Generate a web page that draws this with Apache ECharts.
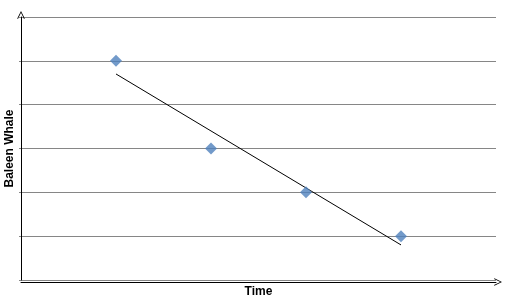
<!DOCTYPE html>
<html><head><meta charset="utf-8">
<script src="https://cdn.jsdelivr.net/npm/echarts@6/dist/echarts.min.js"></script>
<style>html,body{margin:0;padding:0;background:#fff}#c{width:518px;height:305px}</style>
</head><body><div id="c"></div>
<script>
const timePoints = [1, 2, 3, 4];
const whaleValues = [5, 3, 2, 1];
const yTicks = [0, 1, 2, 3, 4, 5, 6];

// linear trendline (least squares) from the data
const n = timePoints.length;
const mx = timePoints.reduce((a,b)=>a+b,0)/n;
const my = whaleValues.reduce((a,b)=>a+b,0)/n;
let sxy=0, sxx=0;
for (let i=0;i<n;i++){sxy+=(timePoints[i]-mx)*(whaleValues[i]-my);sxx+=(timePoints[i]-mx)**2;}
const slope = sxy/sxx, intercept = my - slope*mx;
const trend = [[timePoints[0], intercept+slope*timePoints[0]],[timePoints[n-1], intercept+slope*timePoints[n-1]]];

const chev = 'path://M0,10 L5,0 L10,10 L9,10.6 L5,2.2 L1,10.6 Z';
const chart = echarts.init(document.getElementById('c'), null, {renderer:'canvas'});
chart.setOption({
  animation:false,
  grid:{left:21, right:22, top:17, bottom:25, containLabel:false, outerBoundsMode:'none'},
  xAxis:{type:'value', min:0, max:5, offset:2,
    name:'Time', nameLocation:'middle', nameGap:4,
    nameTextStyle:{fontFamily:'Liberation Sans', fontWeight:'bold', fontSize:12, color:'#000', verticalAlign:'top'},
    axisLine:{show:true, onZero:false, lineStyle:{color:'#000', width:1}, symbol:['none', chev], symbolSize:[11,8], symbolOffset:[0,2]},
    axisTick:{show:false}, axisLabel:{show:false}, splitLine:{show:false}},
  yAxis:{type:'value', min:yTicks[0], max:yTicks[yTicks.length-1], interval:1,
    name:'Baleen Whale', nameLocation:'middle', nameGap:5, nameRotate:90,
    nameTextStyle:{fontFamily:'Liberation Sans', fontWeight:'bold', fontSize:12, color:'#000', verticalAlign:'bottom'},
    axisLine:{show:true, onZero:false, lineStyle:{color:'#000', width:1}, symbol:['none', chev], symbolSize:[11,8], symbolOffset:[0,2]},
    axisTick:{show:true, length:2, lineStyle:{color:'#868686'}}, axisLabel:{show:false},
    splitLine:{show:true, lineStyle:{color:'#868686', width:1}}},
  series:[
    {type:'line', data:trend, symbol:'none', lineStyle:{color:'#000', width:1}, z:3},
    {type:'scatter', data:timePoints.map((t,i)=>[t, whaleValues[i]]), symbol:'diamond', symbolSize:[12,12],
     itemStyle:{color:'#4F81BD'}, z:4}
  ]
});
</script></body></html>
